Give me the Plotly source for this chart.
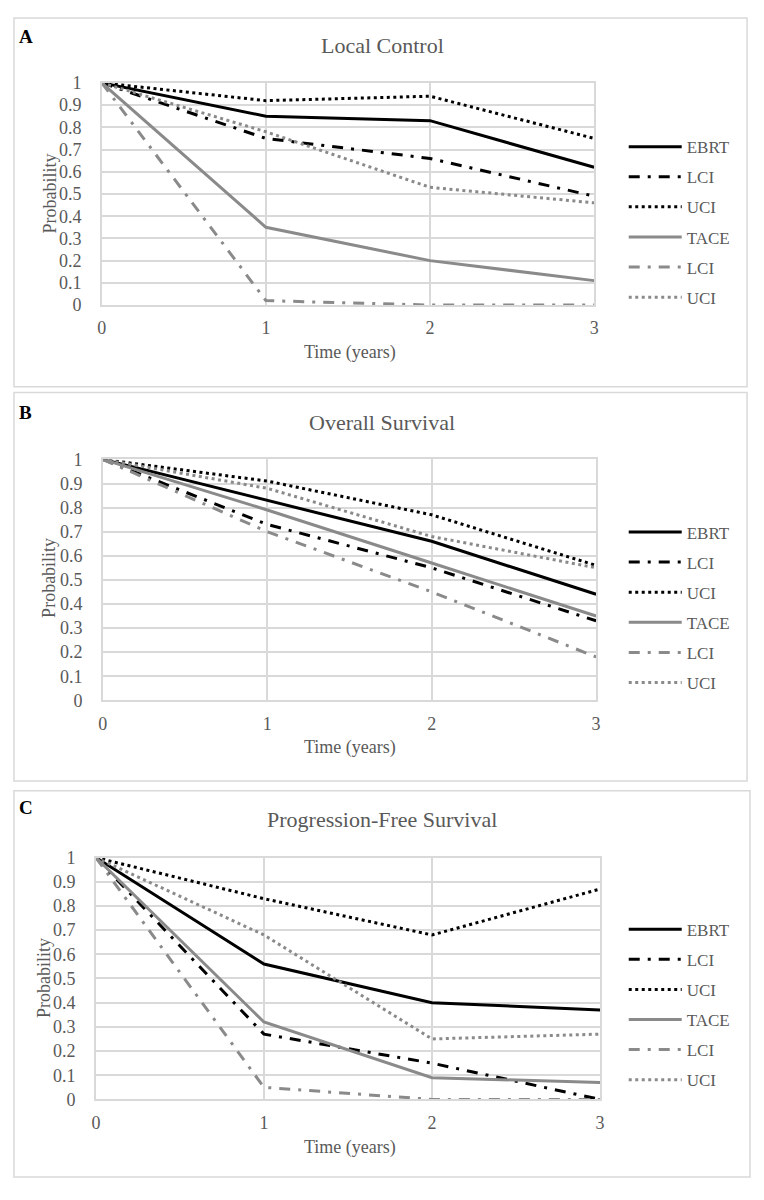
import plotly.graph_objects as go

# Time points (years)
years = [0, 1, 2, 3]

# Panel A - Local Control
lc_ebrt = [1, 0.85, 0.83, 0.62]
lc_ebrt_lci = [1, 0.75, 0.66, 0.49]
lc_ebrt_uci = [1, 0.92, 0.94, 0.75]
lc_tace = [1, 0.35, 0.20, 0.11]
lc_tace_lci = [1, 0.02, 0.0, 0.0]
lc_tace_uci = [1, 0.78, 0.53, 0.46]

# Panel B - Overall Survival
os_ebrt = [1, 0.83, 0.66, 0.44]
os_ebrt_lci = [1, 0.73, 0.55, 0.33]
os_ebrt_uci = [1, 0.91, 0.77, 0.56]
os_tace = [1, 0.79, 0.57, 0.35]
os_tace_lci = [1, 0.70, 0.45, 0.18]
os_tace_uci = [1, 0.88, 0.68, 0.55]

# Panel C - Progression-Free Survival
pfs_ebrt = [1, 0.56, 0.40, 0.37]
pfs_ebrt_lci = [1, 0.27, 0.15, 0.0]
pfs_ebrt_uci = [1, 0.83, 0.68, 0.87]
pfs_tace = [1, 0.32, 0.09, 0.07]
pfs_tace_lci = [1, 0.05, 0.0, 0.0]
pfs_tace_uci = [1, 0.68, 0.25, 0.27]

series_names = ["EBRT", "LCI", "UCI", "TACE", "LCI", "UCI"]
panel_titles = ["Local Control", "Overall Survival", "Progression-Free Survival"]
panel_letters = ["A", "B", "C"]
y_ticks = [0, 0.1, 0.2, 0.3, 0.4, 0.5, 0.6, 0.7, 0.8, 0.9, 1]
y_ticktext = ["0", "0.1", "0.2", "0.3", "0.4", "0.5", "0.6", "0.7", "0.8", "0.9", "1"]

panels = [
    [lc_ebrt, lc_ebrt_lci, lc_ebrt_uci, lc_tace, lc_tace_lci, lc_tace_uci],
    [os_ebrt, os_ebrt_lci, os_ebrt_uci, os_tace, os_tace_lci, os_tace_uci],
    [pfs_ebrt, pfs_ebrt_lci, pfs_ebrt_uci, pfs_tace, pfs_tace_lci, pfs_tace_uci],
]

# page is 764x1200, the body has an 8px margin around the figure
MARGIN = 8
W, H = 764 - 2 * MARGIN, 1200 - 2 * MARGIN
BLACK = "#000000"
GRAY = "#8a8a8a"
TXT = "#595959"
GRID = "#d9d9d9"
FONT = "Liberation Serif"

DASHDOT = "11px,8px,3px,8px"
DOT = "3px,3.5px"
styles = [
    (BLACK, "solid"), (BLACK, DASHDOT), (BLACK, DOT),
    (GRAY, "solid"), (GRAY, DASHDOT), (GRAY, DOT),
]


# page pixel -> paper fraction
def px(v):
    return (v - MARGIN) / W


def py(v):
    return 1 - (v - MARGIN) / H


# page-pixel geometry of each panel: plot area (left, right, top, bottom) and box
plot_px = [(98, 597, 74, 300), (99, 599, 457, 702), (92, 603, 862, 1108)]
box_px = [(9, 752, 8, 383), (9, 752, 389, 784), (9, 755, 794, 1187)]
title_y = [36, 419, 823]
letter_y = [27, 409, 811]
xtitle_y = [348, 750, 1157]
ytitle = [(45, 187), (45, 578), (40, 985)]
legend_top = [121, 513, 917]


def label(text, x, y, size, color=TXT, angle=0):
    return dict(text=text, x=px(x), y=py(y), xref="paper", yref="paper",
                xanchor="center", yanchor="middle", showarrow=False,
                textangle=angle, font=dict(family=FONT, size=size, color=color))


fig = go.Figure()
layout = dict(width=W, height=H, margin=dict(l=0, r=0, t=0, b=0),
              plot_bgcolor="white", paper_bgcolor="white",
              font=dict(family=FONT, color=TXT), shapes=[], annotations=[])

for p, data in enumerate(panels):
    suffix = "" if p == 0 else str(p + 1)
    leg = "legend" + suffix
    for i, ys in enumerate(data):
        color, dash = styles[i]
        fig.add_trace(go.Scatter(
            x=years, y=ys, mode="lines", name=series_names[i],
            line=dict(color=color, dash=dash, width=3),
            xaxis="x" + suffix, yaxis="y" + suffix,
            legend=leg, legendgroup=f"g{p}_{i}",
        ))

    l, r, t, b = plot_px[p]
    layout["xaxis" + suffix] = dict(
        domain=[px(l), px(r)], range=[0, 3], anchor="y" + suffix,
        tickvals=years, showgrid=True, gridcolor=GRID, gridwidth=1.5,
        showline=True, linecolor=GRID, linewidth=1.5, mirror=True,
        zeroline=False, ticks="", ticklabelstandoff=6,
        tickfont=dict(family=FONT, size=18, color=TXT),
    )
    layout["yaxis" + suffix] = dict(
        domain=[py(b), py(t)], range=[0, 1], anchor="x" + suffix,
        tickvals=y_ticks, ticktext=y_ticktext,
        showgrid=True, gridcolor=GRID, gridwidth=1.5,
        showline=True, linecolor=GRID, linewidth=1.5, mirror=True,
        zeroline=False, ticks="", ticklabelstandoff=15,
        tickfont=dict(family=FONT, size=18, color=TXT),
    )
    layout[leg] = dict(
        x=px(627), y=py(legend_top[p]), xanchor="left", yanchor="top",
        font=dict(family=FONT, size=17, color=TXT), itemwidth=53,
        tracegroupgap=5, bgcolor="rgba(0,0,0,0)",
    )

    bl, br, bt, bb = box_px[p]
    layout["shapes"].append(dict(
        type="rect", xref="paper", yref="paper",
        x0=px(bl), x1=px(br), y0=py(bb), y1=py(bt),
        line=dict(color=GRID, width=1.5),
    ))
    layout["annotations"] += [
        label(panel_titles[p], 382, title_y[p], 22),
        label("<b>" + panel_letters[p] + "</b>", 21, letter_y[p], 19, BLACK),
        label("Time (years)", 350, xtitle_y[p], 18),
        label("Probability", ytitle[p][0], ytitle[p][1], 18, angle=-90),
    ]

fig.update_layout(**layout)
fig.write_html("out.html")
